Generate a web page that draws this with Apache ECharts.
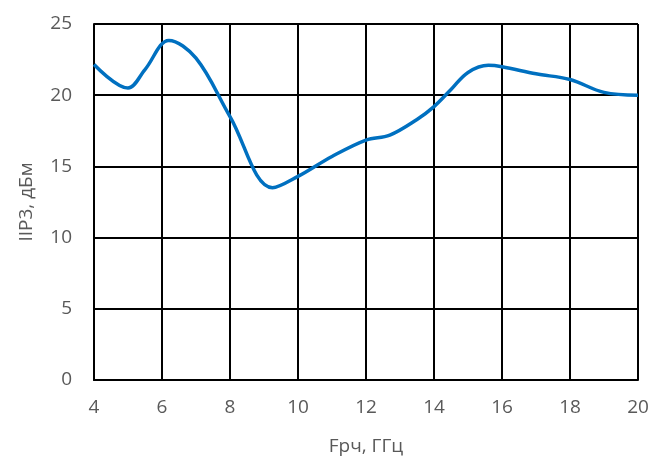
<!DOCTYPE html>
<html><head><meta charset="utf-8">
<script src="https://cdn.jsdelivr.net/npm/echarts@6/dist/echarts.min.js"></script>
<style>html,body{margin:0;padding:0;background:#fff}#c{width:662px;height:462px}</style>
</head><body><div id="c"></div>
<script>
const freq = [4, 5, 5.5, 6.2, 7, 8, 9.25, 10, 11, 12, 12.7, 13.5, 14, 14.5, 15, 15.6, 16, 17, 18, 19, 20];
const iip3 = [22.15, 20.5, 21.8, 23.85, 22.6, 18.5, 13.5, 14.3, 15.7, 16.85, 17.2, 18.3, 19.2, 20.4, 21.6, 22.1, 22.0, 21.5, 21.1, 20.2, 20.0];
const xName = 'Fрч, ГГц';
const yName = 'IIP3, дБм';
const chart = echarts.init(document.getElementById('c'), null, {renderer: 'canvas'});
const font = '"Open Sans", "Noto Sans", sans-serif';
chart.setOption({
  animation: false,
  grid: {left: 94, right: 24, top: 24, bottom: 82},
  xAxis: {
    type: 'value', min: 4, max: 20, interval: 2,
    name: xName, nameLocation: 'middle', nameGap: 57,
    nameTextStyle: {color: '#595959', fontSize: 19, fontFamily: font},
    axisLine: {show: true, lineStyle: {color: '#000', width: 2}},
    axisTick: {show: false},
    axisLabel: {color: '#595959', fontSize: 19, fontFamily: font, margin: 18},
    splitLine: {show: true, lineStyle: {color: '#000', width: 2}}
  },
  yAxis: {
    type: 'value', min: 0, max: 25, interval: 5,
    name: yName, nameLocation: 'middle', nameGap: 58,
    nameTextStyle: {color: '#595959', fontSize: 19, fontFamily: font},
    axisLine: {show: true, lineStyle: {color: '#000', width: 2}},
    axisTick: {show: false},
    axisLabel: {color: '#595959', fontSize: 19, fontFamily: font, margin: 22},
    splitLine: {show: true, lineStyle: {color: '#000', width: 2}}
  },
  series: [{
    type: 'line', data: freq.map((f, i) => [f, iip3[i]]),
    smooth: 0.36, showSymbol: false,
    lineStyle: {color: '#0070C0', width: 3.5}
  }]
});
</script></body></html>
